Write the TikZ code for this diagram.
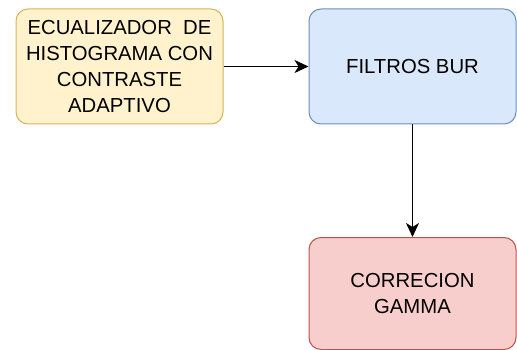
\documentclass[tikz,border=0pt]{standalone}
\usepackage{fontspec}
\setmainfont{Liberation Sans}
\usetikzlibrary{arrows.meta}
\definecolor{yfill}{HTML}{FFF2CC}\definecolor{ydraw}{HTML}{D6B656}
\definecolor{bfill}{HTML}{DAE8FC}\definecolor{bdraw}{HTML}{6C8EBF}
\definecolor{rfill}{HTML}{F8CECC}\definecolor{rdraw}{HTML}{B85450}
\tikzset{
  procbox/.style={rectangle, rounded corners=12pt, line width=1pt, minimum width=207pt, minimum height=115pt, inner sep=0pt, align=center, font=\fontsize{20.3}{26.3}\selectfont},
  conn/.style={line width=1.6pt, -{Stealth[length=14pt,width=13pt,inset=4pt]}}
}
\begin{document}
\begin{tikzpicture}[x=1pt,y=-1pt]
\useasboundingbox (0,0) rectangle (517,350);
\node[procbox, fill=yfill, draw=ydraw] (a) at (119.5,66.5) {ECUALIZADOR\ \ DE\\HISTOGRAMA CON\\CONTRASTE\\ADAPTIVO};
\node[procbox, fill=bfill, draw=bdraw] (b) at (412.5,66.5) {FILTROS BUR};
\node[procbox, fill=rfill, draw=rdraw, minimum height=112pt] (c) at (412.5,293.5) {CORRECION\\GAMMA};
\draw[conn] (a) -- (b);
\draw[conn] (b) -- (c);
\end{tikzpicture}
\end{document}
